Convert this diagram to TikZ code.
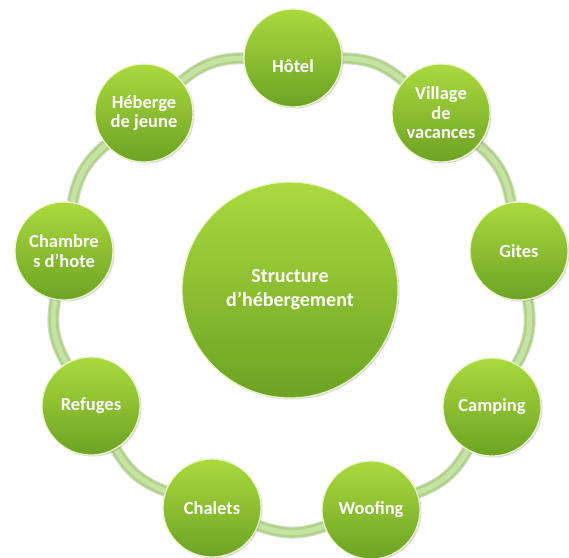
\documentclass[tikz,border=0pt]{standalone}
\usepackage{fontspec}
\setmainfont{Carlito}
\usetikzlibrary{shadows}
\usetikzlibrary{backgrounds}

\definecolor{vertHaut}{HTML}{AADA3E}
\definecolor{vertBas}{HTML}{6DA224}
\definecolor{bord}{HTML}{EEF8CC}
\definecolor{anneau}{HTML}{AFD484}
\definecolor{anneauClair}{HTML}{C6E2A4}

\begin{document}
\begin{tikzpicture}[x=1pt, y=1pt,
    every node/.style={circle, top color=vertHaut, bottom color=vertBas, draw=bord, line width=1.2pt,
      text=white, align=center, inner sep=0pt, minimum size=98pt,
      font=\bfseries\fontsize{18.5}{19.5}\selectfont,
      drop shadow={opacity=0.3, shadow xshift=1.5pt, shadow yshift=-1.5pt}},
    lien/.style={line width=10pt, draw=anneau,
      preaction={draw=black!15, line width=12pt},
      postaction={draw=anneauClair, line width=5pt}}]
            \useasboundingbox (0,0) rectangle (569,557);
            % Noeuds
            \node[minimum size=216pt, font=\bfseries\fontsize{20}{24}\selectfont] (s) at (290,267) {Structure\\d’hébergement};
            \node (h) at (293,499) {\raisebox{-15pt}[0pt][0pt]{Hôtel}};
            \node (v) at (441,444) {Village\\de\\vacances};
            \node (g) at (519,306) {Gites};
            \node (c) at (492,150) {Camping};
            \node (w) at (371,47) {Woofing};
            \node (ch) at (212,49) {Chalets};
            \node (r) at (91,151) {Refuges};
            \node (sh) at (64,306) {Chambre\\s d’hote};
            \node (j) at (144,444) {Héberge\\de jeune};

            % Anneau
            \begin{pgfonlayer}{background}
            \draw[lien] (h) to[bend left=20] (v);
            \draw[lien] (v) to[bend left=20] (g);
            \draw[lien] (g) to[bend left=20] (c);
            \draw[lien] (c) to[bend left=20] (w);
            \draw[lien] (w) to[bend left=20] (ch);
            \draw[lien] (ch) to[bend left=20] (r);
            \draw[lien] (r) to[bend left=20] (sh);
            \draw[lien] (sh) to[bend left=20] (j);
            \draw[lien] (j) to[bend left=20] (h);
            \end{pgfonlayer}
          \end{tikzpicture}
\end{document}
